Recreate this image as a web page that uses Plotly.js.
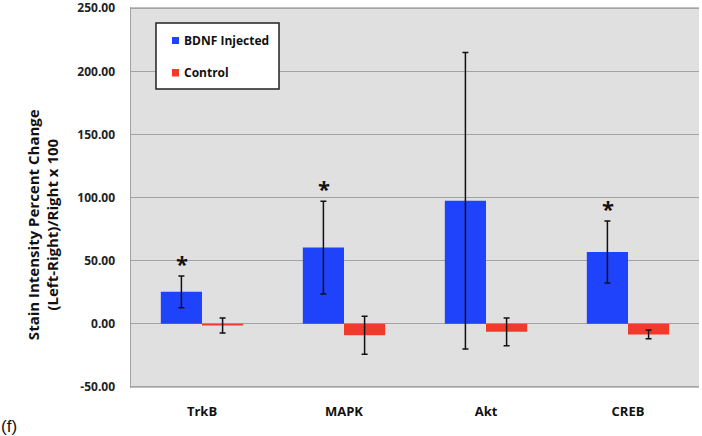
<!DOCTYPE html>
<html>
<head>
<meta charset="utf-8">
<script src="https://cdn.plot.ly/plotly-3.0.1.min.js"></script>
<style>html,body{margin:0;padding:0;background:#fff;}#chart{width:702px;height:436px;}</style>
</head>
<body>
<div id="chart"></div>
<script>
const categories = ["TrkB", "MAPK", "Akt", "CREB"];
const bdnfValues = [25.2, 60.3, 97.5, 56.8];
const bdnfErrors = [12.5, 36.7, 117.5, 24.5];
const controlValues = [-1.5, -9.2, -6.5, -8.5];
const controlErrors = [6.0, 15.0, 11.0, 3.4];
const significant = [true, true, false, true];
const yTicks = [-50, 0, 50, 100, 150, 200, 250];
const seriesNames = ["BDNF Injected", "Control"];
const seriesColors = ["#1f43fb", "#f23a2c"];

const boldFont = "Open Sans";
const traces = [
  {
    type: "bar", name: seriesNames[0], x: categories, y: bdnfValues,
    marker: {color: seriesColors[0]},
    error_y: {type: "data", array: bdnfErrors, visible: true, color: "#111", thickness: 1.5, width: 3}
  },
  {
    type: "bar", name: seriesNames[1], x: categories, y: controlValues,
    marker: {color: seriesColors[1]},
    error_y: {type: "data", array: controlErrors, visible: true, color: "#111", thickness: 1.5, width: 3}
  }
];

const annotations = [];
categories.forEach((c, i) => {
  if (significant[i]) {
    annotations.push({
      x: c, y: bdnfValues[i] + bdnfErrors[i], xref: "x", yref: "y",
      text: "*", showarrow: false, xshift: -20.5, yanchor: "bottom", yshift: -4,
      font: {family: boldFont, size: 22, color: "#111", weight: "bold"}
    });
  }
});
annotations.push({
  xref: "paper", yref: "paper", x: -0.155, y: 0.43, xanchor: "center", yanchor: "middle",
  textangle: -90, showarrow: false,
  text: "Stain Intensity Percent Change<br>(Left-Right)/Right x 100",
  font: {family: boldFont, size: 15, color: "#111", weight: "bold"}
});
annotations.push({
  xref: "paper", yref: "paper", x: -0.232, y: -0.1, xanchor: "left", yanchor: "middle",
  showarrow: false, text: "(f)",
  font: {family: "Liberation Sans", size: 17, color: "#111"}
});

// custom legend (box, swatches, labels) in paper coordinates
const legendRows = [{sy0: 0.9029, sy1: 0.9213, ty: 0.912}, {sy0: 0.8176, sy1: 0.8373, ty: 0.828}];
const shapes = [
  {type: "rect", xref: "paper", yref: "paper", x0: 0.044, x1: 0.2606, y0: 0.785, y1: 0.958,
   fillcolor: "#ffffff", line: {color: "#222", width: 1.5}, layer: "above"}
];
seriesNames.forEach((n, i) => {
  shapes.push({type: "rect", xref: "paper", yref: "paper", x0: 0.0722, x1: 0.0845,
    y0: legendRows[i].sy0, y1: legendRows[i].sy1, fillcolor: seriesColors[i], line: {width: 0}, layer: "above"});
  annotations.push({xref: "paper", yref: "paper", x: 0.0895, y: legendRows[i].ty, xanchor: "left", yanchor: "middle",
    showarrow: false, text: n, font: {family: boldFont, size: 12, color: "#111", weight: "bold"}});
});
shapes.push({type: "line", xref: "paper", yref: "y", x0: 0, x1: 1, y0: 250, y1: 250,
  line: {color: "#a3a3a3", width: 1.5}, layer: "below"});
shapes.push({type: "line", xref: "paper", yref: "y", x0: 0, x1: 1, y0: -50, y1: -50,
  line: {color: "#a3a3a3", width: 1.5}, layer: "below"});

const layout = {
  width: 702, height: 436,
  margin: {l: 131, r: 3, t: 7, b: 48},
  paper_bgcolor: "#ffffff",
  plot_bgcolor: "#e0e0e0",
  barmode: "group",
  bargap: 0.42,
  bargroupgap: 0,
  showlegend: false,
  xaxis: {
    type: "category", showgrid: false, zeroline: false, showline: false,
    ticks: "", ticklabelstandoff: 14,
    tickfont: {family: boldFont, size: 13, color: "#111", weight: "bold"}
  },
  yaxis: {
    range: [-51, 251], tickvals: yTicks, ticktext: yTicks.map(v => v.toFixed(2)),
    ticklabeloverflow: "allow",
    showgrid: true, gridcolor: "#a3a3a3", gridwidth: 1.5,
    zeroline: true, zerolinecolor: "#a3a3a3", zerolinewidth: 1.5,
    showline: true, linecolor: "#a3a3a3", linewidth: 1.5, mirror: false,
    ticks: "", ticklabelstandoff: 12,
    tickfont: {family: boldFont, size: 12, color: "#222", weight: "bold"}
  },
  shapes: shapes,
  annotations: annotations
};

Plotly.newPlot("chart", traces, layout, {displayModeBar: false, staticPlot: true});
</script>
</body>
</html>
